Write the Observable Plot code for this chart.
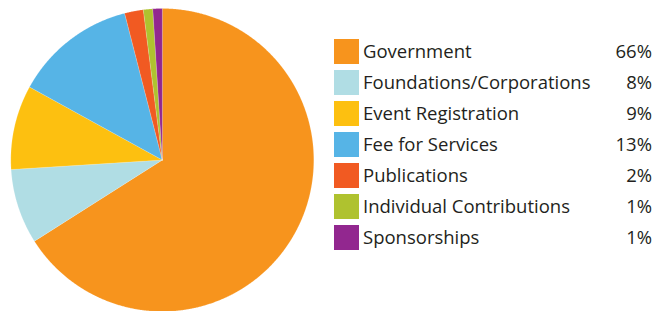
<!DOCTYPE html>
<html>
<head>
<meta charset="utf-8">
<script src="https://cdn.jsdelivr.net/npm/d3@7"></script>
<script src="https://cdn.jsdelivr.net/npm/@observablehq/plot@0.6"></script>
<style>
  html, body { margin: 0; padding: 0; background: #fff; }
  #wrap { position: relative; width: 662px; height: 311px; overflow: hidden; }
  #chart { position: absolute; left: 0; top: 0; }
  #legend { position: absolute; left: 334px; top: 36px; width: 318px;
    font-family: "Open Sans", sans-serif; font-size: 18.5px; font-weight: 500; color: #231f20; }
  .row { display: flex; align-items: center; height: 31px; }
  .sw { width: 25px; height: 25.5px; flex: none; margin-right: 4px; }
  .lab { flex: 1; white-space: nowrap; position: relative; top: -1px; }
  .pct { text-align: right; position: relative; top: -1px; }
</style>
</head>
<body>
<div id="wrap"><div id="chart"></div><div id="legend"></div></div>
<script>
const categories = ["Government", "Foundations/Corporations", "Event Registration", "Fee for Services", "Publications", "Individual Contributions", "Sponsorships"];
const values = [66, 8, 9, 13, 2, 1, 1];
const percentLabels = ["66%", "8%", "9%", "13%", "2%", "1%", "1%"];
const colors = ["#F7941D", "#B0DDE4", "#FDC010", "#56B4E6", "#F15A22", "#AFC22F", "#92278F"];

const arcs = d3.pie().sort(null).value(d => d)(values);
const pts = [];
arcs.forEach((a, i) => {
  const cat = categories[i];
  pts.push({cat, x: 0, y: 0});
  const n = Math.max(4, Math.ceil((a.endAngle - a.startAngle) / 0.005));
  for (let k = 0; k <= n; k++) {
    const t = a.startAngle + (a.endAngle - a.startAngle) * k / n;
    pts.push({cat, x: Math.sin(t), y: Math.cos(t)});
  }
  pts.push({cat, x: 0, y: 0});
});

const plot = Plot.plot({
  width: 330, height: 311,
  marginLeft: 10.3, marginRight: 16.7, marginTop: 8, marginBottom: 0,
  x: {domain: [-1, 1], axis: null},
  y: {domain: [-1, 1], axis: null},
  color: {domain: categories, range: colors},
  marks: [
    Plot.line(pts, {x: "x", y: "y", z: "cat", fill: "cat", stroke: "#fff", strokeWidth: 0.4, strokeOpacity: 0.4})
  ]
});
document.getElementById("chart").appendChild(plot);

const legend = document.getElementById("legend");
categories.forEach((c, i) => {
  const row = document.createElement("div");
  row.className = "row";
  row.innerHTML = `<div class="sw" style="background:${colors[i]}"></div><div class="lab">${c}</div><div class="pct">${percentLabels[i]}</div>`;
  legend.appendChild(row);
});
</script>
</body>
</html>
